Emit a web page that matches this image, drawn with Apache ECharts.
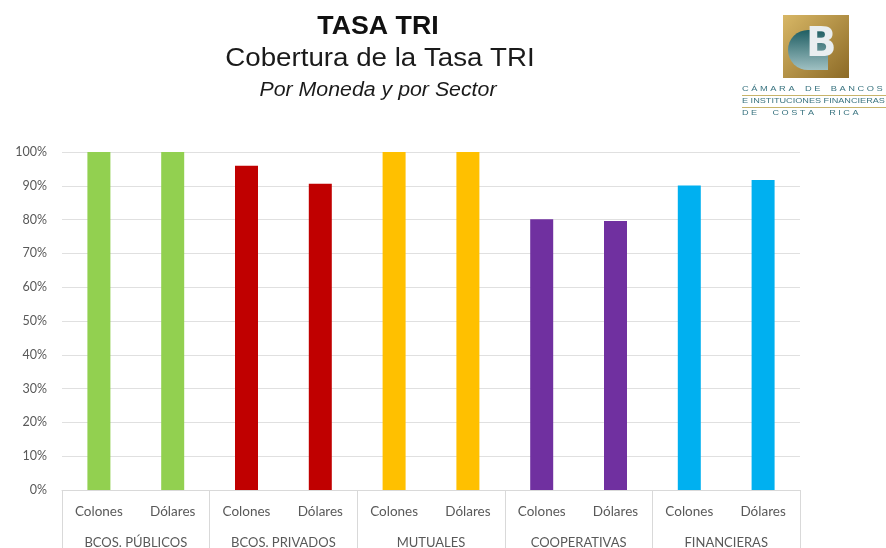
<!DOCTYPE html>
<html>
<head>
<meta charset="utf-8">
<script src="https://cdn.jsdelivr.net/npm/echarts@6/dist/echarts.min.js"></script>
<style>
  html, body { margin: 0; padding: 0; background: #fff; }
  #chart { width: 886px; height: 548px; }
</style>
</head>
<body>
<div id="chart"></div>
<script>
// datos
const sectors = ["BCOS. PÚBLICOS", "BCOS. PRIVADOS", "MUTUALES", "COOPERATIVAS", "FINANCIERAS"];
const monedas = ["Colones", "Dólares"];
const sectorColors = ["#92D050", "#C00000", "#FFC000", "#7030A0", "#00B0F0"];
const coberturaColones = [1.0, 0.959, 1.0, 0.801, 0.901];
const coberturaDolares = [1.0, 0.906, 1.0, 0.796, 0.917];
const yTicks = [0, 0.1, 0.2, 0.3, 0.4, 0.5, 0.6, 0.7, 0.8, 0.9, 1.0];

// categorias del eje x (2 por sector)
let xCats = [];
let barData = [];
sectors.forEach((s, i) => {
  xCats.push(monedas[0]);
  xCats.push(monedas[1]);
  barData.push({ value: coberturaColones[i], itemStyle: { color: sectorColors[i] } });
  barData.push({ value: coberturaDolares[i], itemStyle: { color: sectorColors[i] } });
});

const labelFont = "Lato, 'Open Sans', sans-serif";
const myChart = echarts.init(document.getElementById("chart"));

// la imagen original esta un poco estirada a lo ancho, por eso scaleX
const titleText = (text, x, y, size, sx, extra) => ({
  type: "text",
  x: x, y: y, scaleX: sx,
  style: Object.assign({
    text: text,
    textAlign: "center",
    textVerticalAlign: "middle",
    fontFamily: "Liberation Sans",
    fontSize: size,
    fill: "#1a1a1a",
  }, extra || {}),
});

// texto pequeño del logo
const logoText = (text, y, sx) => ({
  type: "text",
  x: 742, y: y, scaleX: sx,
  style: { text: text, fontFamily: "Liberation Sans", fontSize: 8, fill: "#3a7480" },
});

const option = {
  backgroundColor: "#fff",
  animation: false,
  grid: { left: 62, right: 86, top: 152, bottom: 58, outerBoundsMode: "none" },
  xAxis: [
    {
      type: "category",
      data: xCats,
      axisLine: { show: true, lineStyle: { color: "#d9d9d9" } },
      axisTick: { show: false },
      axisLabel: { interval: 0, margin: 15, color: "#595959", fontSize: 13.5, fontFamily: labelFont },
    },
    {
      type: "category",
      position: "bottom",
      data: sectors,
      axisLine: { show: false },
      axisTick: { show: true, length: 60, lineStyle: { color: "#d9d9d9" } },
      axisLabel: { interval: 0, margin: 46, color: "#595959", fontSize: 13, fontFamily: labelFont },
      splitLine: { show: false },
    },
  ],
  yAxis: {
    type: "value",
    min: yTicks[0],
    max: yTicks[yTicks.length - 1],
    interval: 0.1,
    axisLine: { show: false },
    axisTick: { show: false },
    splitLine: { lineStyle: { color: "#e0e0e0" } },
    axisLabel: {
      margin: 15,
      color: "#595959",
      fontSize: 12.5,
      fontFamily: labelFont,
      formatter: (v) => Math.round(v * 100) + "%",
    },
  },
  series: [
    {
      type: "bar",
      xAxisIndex: 0,
      barWidth: 23,
      data: barData,
    },
  ],
  graphic: [
    titleText("TASA TRI", 378, 27, 25, 1.07, { fontWeight: "bold", fill: "#111" }),
    titleText("Cobertura de la Tasa TRI", 380, 59, 26, 1.065),
    titleText("Por Moneda y por Sector", 378, 90, 20.5, 1.04, { fontStyle: "italic" }),
    // logo aproximado
    {
      type: "rect",
      shape: { x: 783, y: 15, width: 66, height: 63 },
      style: {
        fill: {
          type: "linear", x: 0, y: 0, x2: 1, y2: 1,
          colorStops: [
            { offset: 0, color: "#d8b766" },
            { offset: 1, color: "#8c6a26" },
          ],
        },
      },
    },
    {
      type: "rect",
      shape: { x: 788, y: 30, width: 40, height: 40, r: [20, 0, 0, 20] },
      style: {
        fill: {
          type: "linear", x: 0, y: 0, x2: 0, y2: 1,
          colorStops: [
            { offset: 0, color: "#1f5e63" },
            { offset: 1, color: "#9fc0c2" },
          ],
        },
      },
    },
    {
      type: "text",
      x: 806, y: 26,
      style: { text: "B", fontFamily: "DejaVu Sans", fontWeight: "bold", fontSize: 40, fill: "#e9eef0" },
    },
    logoText("C Á M A R A    D E    B A N C O S", 85, 1.16),
    {
      type: "rect",
      shape: { x: 742, y: 95, width: 144, height: 1 },
      style: { fill: "#c8b46a" },
    },
    logoText("E INSTITUCIONES FINANCIERAS", 97, 1.14),
    {
      type: "rect",
      shape: { x: 742, y: 107, width: 144, height: 1 },
      style: { fill: "#c8b46a" },
    },
    logoText("D E      C O S T A      R I C A", 109, 1.14),
  ],
};

myChart.setOption(option);
</script>
</body>
</html>
